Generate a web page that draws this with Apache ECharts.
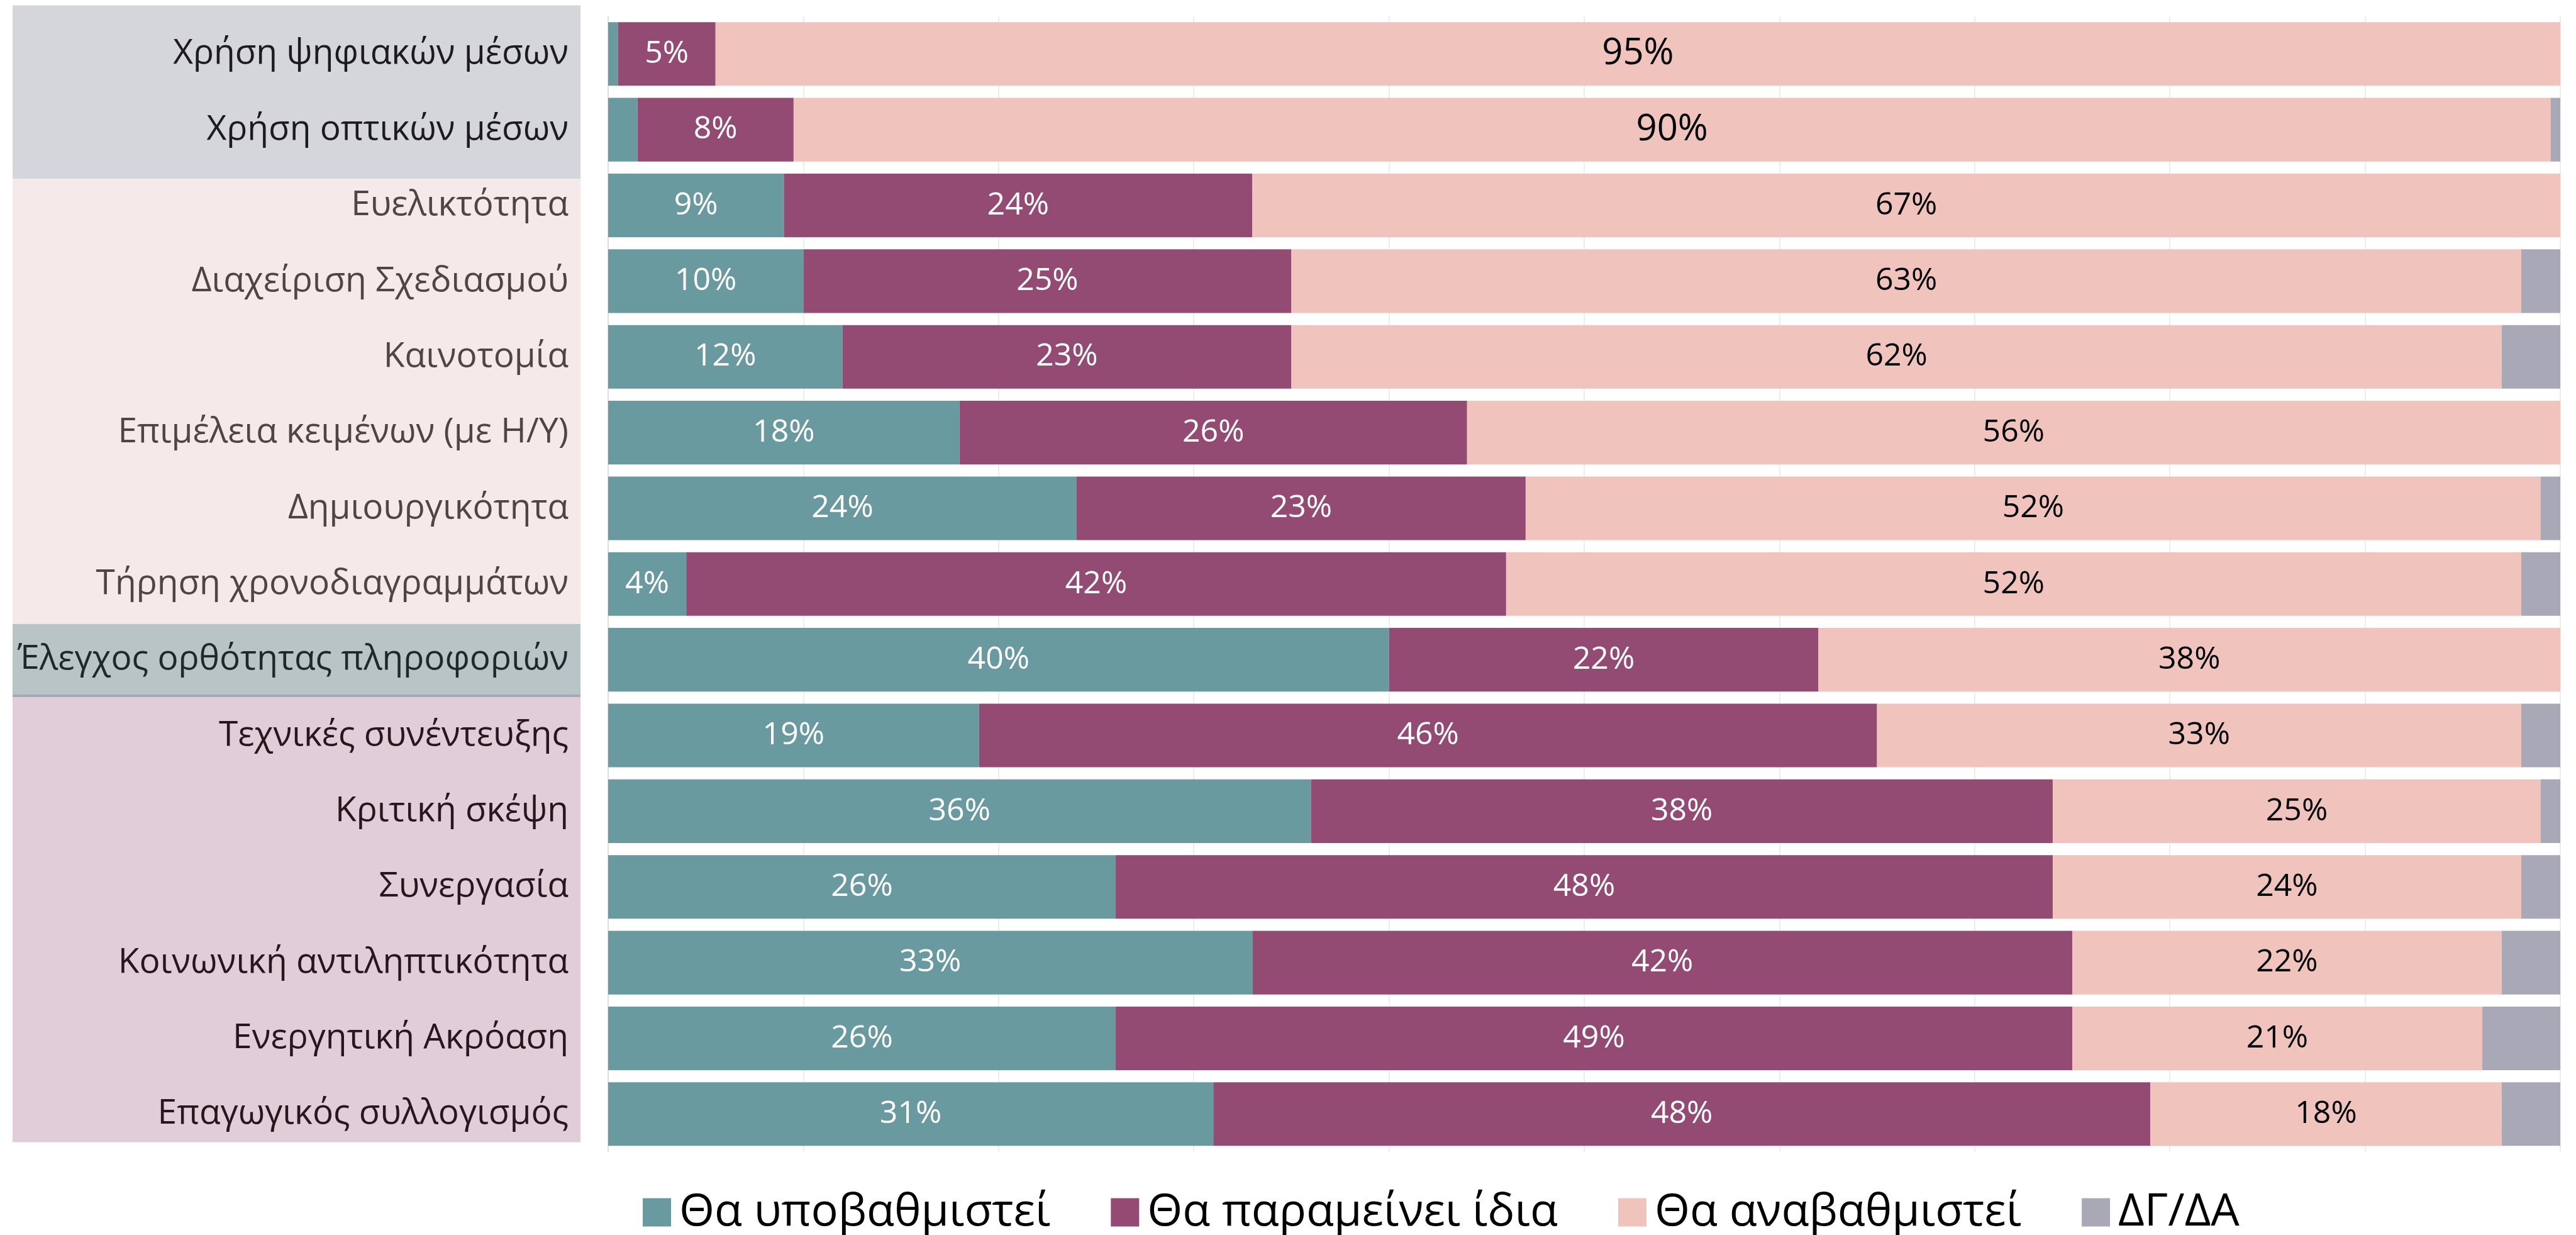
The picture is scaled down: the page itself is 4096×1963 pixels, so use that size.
<!DOCTYPE html>
<html>
<head>
<meta charset="utf-8">
<script src="https://cdn.jsdelivr.net/npm/echarts@6/dist/echarts.min.js"></script>
<style>
  html, body { margin: 0; padding: 0; background: #ffffff; }
  #chart { width: 4096px; height: 1963px; }
</style>
</head>
<body>
<div id="chart"></div>
<script>
// Skills and the expected change in their importance (share of answers, %)
const categories = [
  'Χρήση ψηφιακών μέσων',
  'Χρήση οπτικών μέσων',
  'Ευελικτότητα',
  'Διαχείριση Σχεδιασμού',
  'Καινοτομία',
  'Επιμέλεια κειμένων (με Η/Υ)',
  'Δημιουργικότητα',
  'Τήρηση χρονοδιαγραμμάτων',
  'Έλεγχος ορθότητας πληροφοριών',
  'Τεχνικές συνέντευξης',
  'Κριτική σκέψη',
  'Συνεργασία',
  'Κοινωνική αντιληπτικότητα',
  'Ενεργητική Ακρόαση',
  'Επαγωγικός συλλογισμός'
];
const seriesNames = ['Θα υποβαθμιστεί', 'Θα παραμείνει ίδια', 'Θα αναβαθμιστεί', 'ΔΓ/ΔΑ'];
const declineVals = [0.5, 1.5, 9, 10, 12, 18, 24, 4, 40, 19, 36, 26, 33, 26, 31];
const sameVals    = [5, 8, 24, 25, 23, 26, 23, 42, 22, 46, 38, 48, 42, 49, 48];
const upgradeVals = [95, 90, 67, 63, 62, 56, 52, 52, 38, 33, 25, 24, 22, 21, 18];
const unsureVals  = [0.5, 0.5, 0, 3.5, 3.5, 0.5, 1, 2.5, 0.5, 2.5, 2, 2.5, 3.5, 4, 4];
const xTicks = [0, 10, 20, 30, 40, 50, 60, 70, 80, 90, 100];

const FONT = "'Open Sans', 'Noto Sans', sans-serif";
const colors = ['#699aa0', '#934b74', '#f1c3bd', '#a9a8b6'];

// label colours for the four skill groups on the left
function groupOf(i) {
  if (i < 2) return 0;
  if (i < 8) return 1;
  if (i === 8) return 2;
  return 3;
}
const groupTextColors = ['#1b1b20', '#4f4644', '#1c2a2a', '#28161f'];

// background bands behind the category names
const panels = [
  { y0: 8.5,   y1: 284.6,  fill: '#d5d6dc' },
  { y0: 284.6, y1: 991.7,  fill: '#f5eae9' },
  { y0: 991.7, y1: 1104,   fill: '#b9c4c6' },
  { y0: 1104,  y1: 1108,   fill: '#a9a9b6' },
  { y0: 1108,  y1: 1815.6, fill: '#e1cdd8' }
];

const valueLists = [declineVals, sameVals, upgradeVals, unsureVals];
const labelColors = ['#ffffff', '#ffffff', '#000000', '#000000'];

const series = valueLists.map((vals, s) => ({
  name: seriesNames[s],
  type: 'bar',
  stack: 'total',
  barCategoryGap: '16%',
  clip: true,
  itemStyle: { color: colors[s] },
  label: {
    show: s < 3,
    position: 'inside',
    color: labelColors[s],
    fontFamily: FONT,
    fontSize: 50,
    formatter: p => (p.value >= 3 ? p.value + '%' : '')
  },
  data: vals.map((v, i) => (s === 2 && i < 2)
    ? { value: v, label: { fontSize: 58 } }
    : v)
}));

const chart = echarts.init(document.getElementById('chart'), null, { renderer: 'canvas' });
chart.setOption({
  animation: false,
  backgroundColor: '#ffffff',
  textStyle: { fontFamily: FONT },
  graphic: panels.map(p => ({
    type: 'rect',
    z: -10,
    silent: true,
    shape: { x: 20, y: p.y0, width: 903, height: p.y1 - p.y0 },
    style: { fill: p.fill }
  })),
  grid: { left: 967, right: 25, top: 25.6, bottom: 132, containLabel: false },
  xAxis: {
    type: 'value',
    min: xTicks[0],
    max: xTicks[xTicks.length - 1],
    interval: xTicks[1] - xTicks[0],
    axisLabel: { show: false },
    axisLine: { show: false },
    axisTick: { show: false },
    splitLine: { show: true, lineStyle: { color: '#ededed', width: 2 } }
  },
  yAxis: {
    type: 'category',
    inverse: true,
    data: categories,
    axisLine: { show: true, lineStyle: { color: '#dedede', width: 2 } },
    axisTick: { show: false },
    axisLabel: {
      margin: 63,
      fontFamily: FONT,
      fontSize: 55,
      color: (val, idx) => groupTextColors[groupOf(idx)]
    }
  },
  legend: {
    data: seriesNames,
    left: 1017,
    top: 1886,
    itemWidth: 45,
    itemHeight: 45,
    itemGap: 96,
    icon: 'rect',
    textStyle: { fontFamily: FONT, fontSize: 72, color: '#000000', padding: [0, 0, 0, 8] }
  },
  series: series
});
</script>
</body>
</html>
